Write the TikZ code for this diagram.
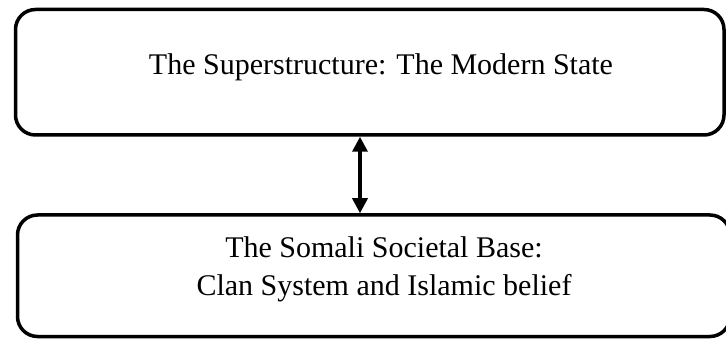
\documentclass[tikz,border=0pt]{standalone}
\usepackage{fontspec}
\setmainfont{Liberation Serif}
\usetikzlibrary{arrows.meta}
\begin{document}
\begin{tikzpicture}[x=1pt,y=-1pt,
  box/.style={draw=black,line width=3.5pt,rounded corners=20pt,inner sep=0pt},
  lbl/.style={font=\fontsize{30}{38}\selectfont,align=center,inner sep=0pt},
  link/.style={line width=3.5pt,{Triangle[length=15pt,width=15pt]}-{Triangle[length=15pt,width=15pt]}}]
\useasboundingbox (0,0) rectangle (726,339);
\clip (0,0) rectangle (726,339);
\node[box,minimum width=708.5pt,minimum height=125.5pt] (top) at (369.75,72.25) {};
\node[box,minimum width=712.5pt,minimum height=121.5pt] (bot) at (373.75,275.75) {};
\node[lbl] (toptext) at (381,67) {The Superstructure: The Modern State};
\node[lbl] (bottext) at (384,269) {The Somali Societal Base:\\Clan System and Islamic belief};
\coordinate (ax) at (360,0);
\draw[link] (top.south -| ax) -- (bot.north -| ax);
\end{tikzpicture}
\end{document}
